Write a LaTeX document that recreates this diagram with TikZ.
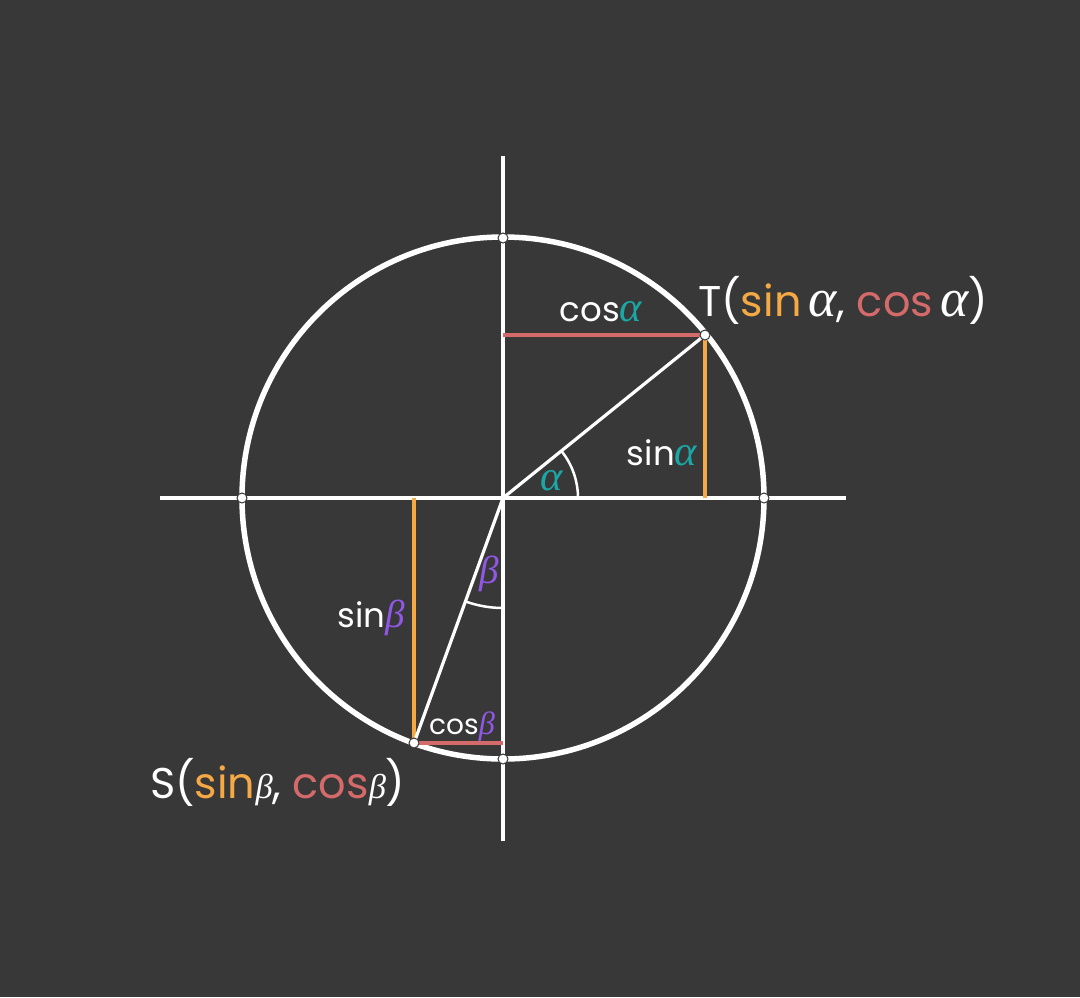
\documentclass[tikz,border=0pt]{standalone}
\usepackage{fontspec}
\setmainfont{Poppins}
\newfontfamily\gk{Liberation Serif}
\newcommand{\ga}{\scalebox{1.25}{\gk\itshape α}}
\newcommand{\gb}{\scalebox{1.15}{\gk\itshape β}}
\definecolor{bg}{HTML}{383838}
\definecolor{org}{HTML}{F4A944}
\definecolor{rd}{HTML}{D46A6A}
\definecolor{tl}{HTML}{1AA8A6}
\definecolor{pu}{HTML}{9157E6}
\begin{document}
\begin{tikzpicture}[x=1pt,y=-1pt,
  ax/.style={white,line width=3.2pt},
  ln/.style={line width=3.2pt},
  pt/.style={circle,fill=white,draw=bg,line width=1pt,inner sep=0pt,minimum size=10pt},
  lbl/.style={text=white,font=\fontsize{34}{36}\selectfont,inner sep=0pt},
  big/.style={text=white,font=\fontsize{43}{45}\selectfont,inner sep=0pt}]
\fill[bg] (0,0) rectangle (1080,997);
\useasboundingbox (0,0) rectangle (1080,997);
\coordinate (O) at (503,498);
\coordinate (xl) at (160,498);
\coordinate (xr) at (846,498);
\coordinate (yt) at (503,156);
\coordinate (yb) at (503,841);
\coordinate (Tx) at (705,498);
\coordinate (Ty) at (503,335);
\coordinate (Sx) at (414,498);
\coordinate (Sy) at (503,743);
\draw[ax] (xl) -- (xr);
\draw[ax] (yt) -- (yb);
\draw[white,line width=5.5pt] (O) circle[radius=261];
\coordinate (T) at (705,335);
\coordinate (S) at (414,743);
\draw[ln,rd] (Ty) -- (T);
\draw[ln,org] (T) -- (Tx);
\draw[ln,org] (Sx) -- (S);
\draw[ln,rd] (S) -- (Sy);
\draw[ax] (O) -- (T);
\draw[ax] (O) -- (S);
\draw[white,line width=2.5pt] (578,498) arc[start angle=0,end angle=-38.9,radius=75];
\draw[white,line width=2.5pt] (503,608) arc[start angle=90,end angle=110,radius=110];
\node[pt] (pT) at (T) {};
\node[pt] (pS) at (S) {};
\node[pt] (p1) at (503,238) {};
\node[pt] (p2) at (503,759) {};
\node[pt] (p3) at (242,498) {};
\node[pt] (p4) at (764,498) {};
\node[lbl] (lc) at (601,312) {cos\textcolor{tl}{\ga}};
\node[lbl] (ls) at (662,453) {sin\textcolor{tl}{\ga}};
\node[lbl,text=tl] (la) at (552,481) {\ga};
\node[lbl,text=pu] (lb) at (489,574) {\gb};
\node[lbl] (lsb) at (371,618) {sin\textcolor{pu}{\gb}};
\node[lbl,font=\fontsize{28}{30}\selectfont] (lcb) at (462,727) {cos\textcolor{pu}{\gb}};
\node[big,anchor=west] (lT) at (698,300) {T(\textcolor{org}{sin}\,\ga, \textcolor{rd}{cos}\,\ga)};
\node[big,anchor=west] (lS) at (150,782) {S(\textcolor{org}{sin}{\fontsize{30}{32}\selectfont\gb}, \textcolor{rd}{cos}{\fontsize{30}{32}\selectfont\gb})};
\end{tikzpicture}
\end{document}
